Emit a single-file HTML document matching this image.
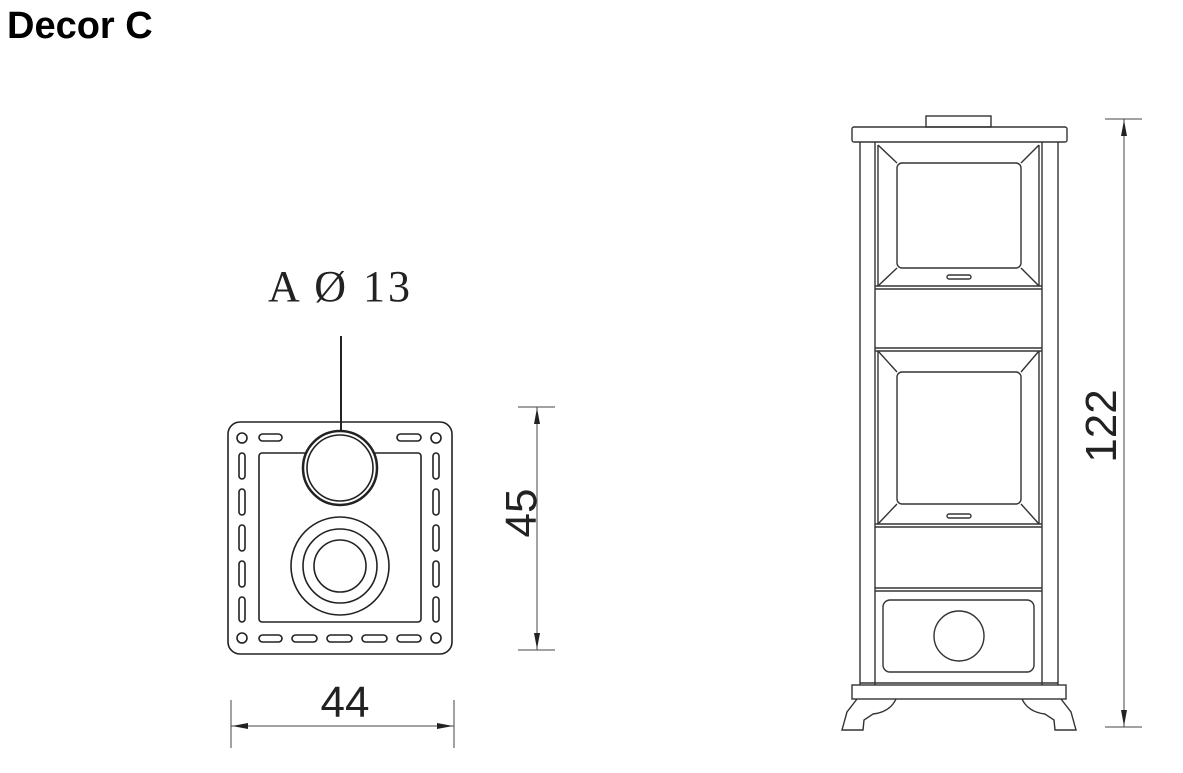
<!DOCTYPE html>
<html><head><style>body{margin:0;background:#fff}svg{display:block}</style></head><body>
<svg width="1183" height="773" viewBox="0 0 1183 773" xmlns="http://www.w3.org/2000/svg" font-family="Liberation Sans, sans-serif">
<text x="7" y="38" font-size="38" font-weight="bold" fill="#000">Decor C</text>
<g fill="none" stroke="#222" stroke-width="1.6">
<rect x="228" y="422" width="224" height="232" rx="12"/>
<rect x="259" y="453" width="162" height="169" rx="3"/>
<circle cx="340" cy="468" r="37" fill="#fff" stroke-width="2.5"/>
<circle cx="340" cy="468" r="33"/>
<circle cx="340" cy="566" r="49"/>
<circle cx="340" cy="566" r="37"/>
<circle cx="340" cy="566" r="26"/>
<circle cx="242" cy="438" r="5"/><circle cx="436" cy="438" r="5"/>
<circle cx="242" cy="638" r="5"/><circle cx="436" cy="638" r="5"/>
<rect x="259" y="434" width="23" height="7" rx="3.5"/><rect x="397" y="434" width="24" height="7" rx="3.5"/>
<rect x="259" y="635" width="23" height="7" rx="3.5"/><rect x="292" y="635" width="25" height="7" rx="3.5"/><rect x="327" y="635" width="25" height="7" rx="3.5"/><rect x="362" y="635" width="25" height="7" rx="3.5"/><rect x="397" y="635" width="24" height="7" rx="3.5"/>
<rect x="239" y="453" width="6" height="26" rx="3"/><rect x="239" y="489" width="6" height="26" rx="3"/><rect x="239" y="525" width="6" height="26" rx="3"/><rect x="239" y="561" width="6" height="26" rx="3"/><rect x="239" y="597" width="6" height="25" rx="3"/>
<rect x="433" y="453" width="6" height="26" rx="3"/><rect x="433" y="489" width="6" height="26" rx="3"/><rect x="433" y="525" width="6" height="26" rx="3"/><rect x="433" y="561" width="6" height="26" rx="3"/><rect x="433" y="597" width="6" height="25" rx="3"/>
<line x1="341" y1="336" x2="341" y2="431" stroke-width="2"/>
</g>
<text x="268" y="301" font-family="Liberation Serif, serif" font-size="44" fill="#222" textLength="142" lengthAdjust="spacing">A Ø 13</text>
<g stroke="#444" stroke-width="1" fill="none">
<line x1="537" y1="407" x2="537" y2="650"/><line x1="518" y1="407" x2="555" y2="407"/><line x1="518" y1="650" x2="555" y2="650"/>
<line x1="231" y1="726" x2="454" y2="726"/><line x1="231" y1="700" x2="231" y2="748"/><line x1="454" y1="700" x2="454" y2="748"/>
<line x1="1124" y1="119" x2="1124" y2="727"/><line x1="1105" y1="119" x2="1142" y2="119"/><line x1="1105" y1="727" x2="1142" y2="727"/>
</g>
<g fill="#222">
<polygon points="537,408 534,424 540,424"/><polygon points="537,649 534,633 540,633"/>
<polygon points="232,726 248,723 248,729"/><polygon points="453,726 437,723 437,729"/>
<polygon points="1124,120 1121,136 1127,136"/><polygon points="1124,726 1121,710 1127,710"/>
</g>
<text x="345" y="717" font-size="44" text-anchor="middle" fill="#222">44</text>
<text transform="translate(536,513) rotate(-90)" font-size="44" text-anchor="middle" fill="#222">45</text>
<text transform="translate(1116,426) rotate(-90)" font-size="44" text-anchor="middle" fill="#222">122</text>
<g fill="none" stroke="#333" stroke-width="1.4">
<rect x="926" y="116" width="65" height="11"/>
<rect x="852" y="127" width="215" height="15" rx="2"/>
<line x1="860" y1="142" x2="860" y2="685"/><line x1="1058" y1="142" x2="1058" y2="685"/>
<line x1="875" y1="142" x2="875" y2="685"/><line x1="1042" y1="142" x2="1042" y2="685"/>
<line x1="878" y1="145" x2="878" y2="286"/><line x1="1039" y1="145" x2="1039" y2="286"/>
<rect x="897" y="163" width="124" height="105" rx="5"/>
<line x1="878" y1="145" x2="897" y2="163"/><line x1="1039" y1="145" x2="1021" y2="163"/>
<line x1="878" y1="286" x2="897" y2="268"/><line x1="1039" y1="286" x2="1021" y2="268"/>
<line x1="875" y1="286" x2="1042" y2="286"/><line x1="875" y1="289" x2="1042" y2="289"/>
<rect x="947" y="275" width="24" height="4" rx="2"/>
<line x1="875" y1="348" x2="1042" y2="348"/><line x1="875" y1="351" x2="1042" y2="351"/>
<line x1="878" y1="351" x2="878" y2="524"/><line x1="1039" y1="351" x2="1039" y2="524"/>
<rect x="897" y="372" width="124" height="132" rx="5"/>
<line x1="878" y1="351" x2="897" y2="372"/><line x1="1039" y1="351" x2="1021" y2="372"/>
<line x1="878" y1="524" x2="897" y2="504"/><line x1="1039" y1="524" x2="1021" y2="504"/>
<line x1="875" y1="524" x2="1042" y2="524"/><line x1="875" y1="527" x2="1042" y2="527"/>
<rect x="947" y="514" width="24" height="4" rx="2"/>
<line x1="875" y1="588" x2="1042" y2="588"/><line x1="875" y1="591" x2="1042" y2="591"/>
<rect x="883" y="600" width="151" height="72" rx="7"/>
<circle cx="959" cy="636" r="25"/>
<line x1="860" y1="683" x2="1058" y2="683"/>
<rect x="852" y="685" width="214" height="14"/>
<path d="M857,699 L847,712 L842,730 L863,730 L864,720 L873,714 Q890,712 896,699"/>
<path d="M1061,699 L1071,712 L1076,730 L1055,730 L1054,720 L1045,714 Q1028,712 1022,699"/>
</g>
</svg>
</body></html>
